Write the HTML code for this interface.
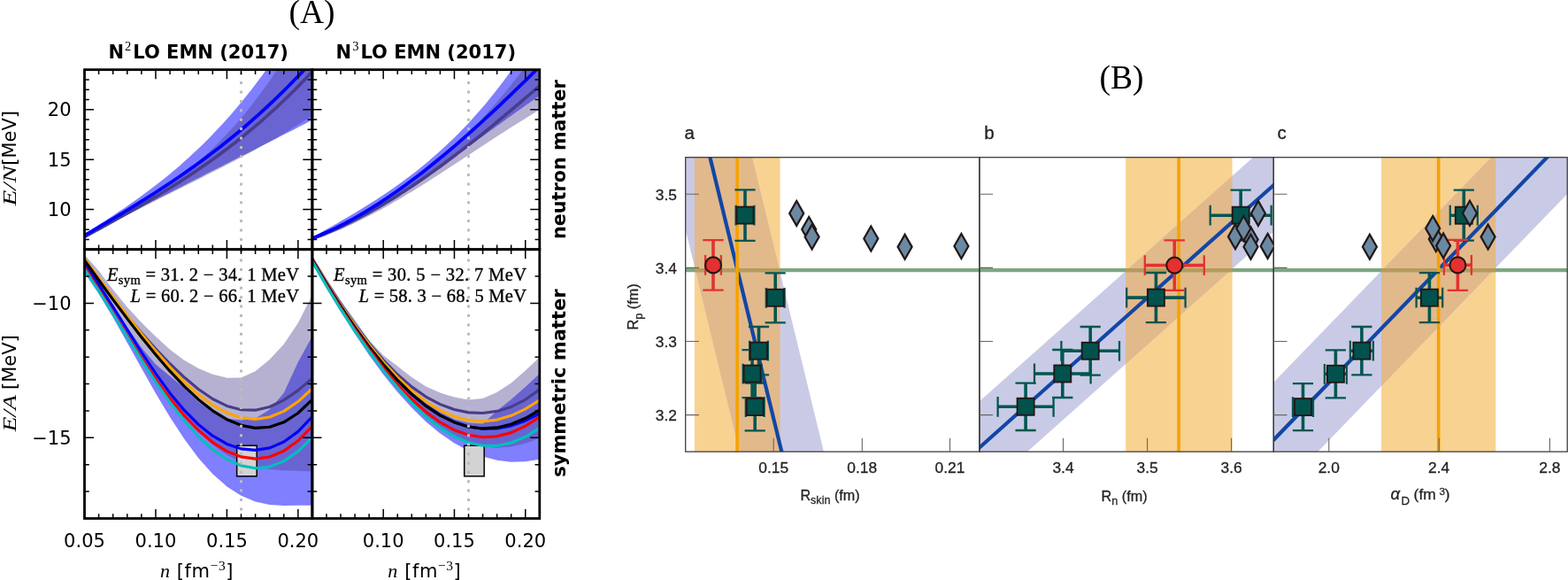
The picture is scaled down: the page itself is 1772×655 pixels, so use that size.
<!DOCTYPE html>
<html><head><meta charset="utf-8"><title>Figure</title>
<style>html,body{margin:0;padding:0;background:#fff;overflow:hidden}svg{display:block}</style>
</head><body>
<svg width="1772" height="655" viewBox="0 0 1772 655">
<rect x="0" y="0" width="1772" height="655" fill="#fff"/>
<defs><clipPath id="cTL"><rect x="95.5" y="78.7" width="257.4" height="203"/></clipPath><clipPath id="cTR"><rect x="352.9" y="78.7" width="256.9" height="203"/></clipPath><clipPath id="cBL"><rect x="95.5" y="281.7" width="257.4" height="303.8"/></clipPath><clipPath id="cBR"><rect x="352.9" y="281.7" width="256.9" height="303.8"/></clipPath></defs>
<g clip-path="url(#cTL)"><path d="M87.45,268.9 L91.48,266.42 L95.5,263.93 L99.52,261.43 L103.55,258.91 L107.57,256.38 L111.59,253.84 L115.61,251.28 L119.64,248.69 L123.66,246.08 L127.68,243.45 L131.7,240.79 L135.73,238.11 L139.75,235.39 L143.77,232.64 L147.79,229.85 L151.82,227.03 L155.84,224.17 L159.86,221.27 L163.88,218.33 L167.91,215.35 L171.93,212.31 L175.95,209.23 L179.97,206.1 L184,202.92 L188.02,199.68 L192.04,196.39 L196.06,193.04 L200.09,189.63 L204.11,186.16 L208.13,182.62 L212.15,179.02 L216.18,175.35 L220.2,171.61 L224.22,167.79 L228.24,163.91 L232.27,159.95 L236.29,155.91 L240.31,151.79 L244.33,147.59 L248.36,143.3 L252.38,138.94 L256.4,134.48 L260.42,129.93 L264.45,125.29 L268.47,120.56 L272.49,115.74 L276.51,110.81 L280.54,105.79 L284.56,100.67 L288.58,95.44 L292.6,90.11 L296.63,84.67 L300.65,79.12 L304.67,73.46 L308.69,67.69 L312.72,61.8 L316.74,55.8 L320.76,49.67 L324.78,43.43 L328.81,37.06 L332.83,30.57 L336.85,23.95 L340.87,17.2 L344.9,10.33 L348.92,3.32 L352.94,-3.83 L356.96,-11.11 L360.99,-18.53 L365.01,-26.09 L369.03,-33.79 L369.03,127.17 L365.01,129.27 L360.99,131.36 L356.96,133.45 L352.94,135.53 L348.92,137.61 L344.9,139.68 L340.87,141.75 L336.85,143.81 L332.83,145.88 L328.81,147.94 L324.78,149.99 L320.76,152.04 L316.74,154.09 L312.72,156.14 L308.69,158.19 L304.67,160.23 L300.65,162.27 L296.63,164.31 L292.6,166.35 L288.58,168.39 L284.56,170.42 L280.54,172.46 L276.51,174.49 L272.49,176.52 L268.47,178.56 L264.45,180.59 L260.42,182.62 L256.4,184.66 L252.38,186.69 L248.36,188.72 L244.33,190.76 L240.31,192.8 L236.29,194.83 L232.27,196.87 L228.24,198.92 L224.22,200.96 L220.2,203 L216.18,205.05 L212.15,207.1 L208.13,209.16 L204.11,211.21 L200.09,213.27 L196.06,215.33 L192.04,217.4 L188.02,219.47 L184,221.54 L179.97,223.62 L175.95,225.7 L171.93,227.79 L167.91,229.88 L163.88,231.98 L159.86,234.08 L155.84,236.19 L151.82,238.3 L147.79,240.42 L143.77,242.54 L139.75,244.67 L135.73,246.81 L131.7,248.95 L127.68,251.1 L123.66,253.26 L119.64,255.42 L115.61,257.6 L111.59,259.78 L107.57,261.96 L103.55,264.16 L99.52,266.36 L95.5,268.57 L91.48,270.79 L87.45,273.02 Z" fill="#0000ff" fill-opacity="0.5"/><path d="M87.45,269.31 L91.48,267.29 L95.5,265.26 L99.52,263.22 L103.55,261.17 L107.57,259.11 L111.59,257.03 L115.61,254.94 L119.64,252.82 L123.66,250.68 L127.68,248.51 L131.7,246.32 L135.73,244.1 L139.75,241.84 L143.77,239.54 L147.79,237.21 L151.82,234.84 L155.84,232.43 L159.86,229.97 L163.88,227.47 L167.91,224.91 L171.93,222.3 L175.95,219.64 L179.97,216.92 L184,214.15 L188.02,211.31 L192.04,208.4 L196.06,205.44 L200.09,202.4 L204.11,199.29 L208.13,196.1 L212.15,192.85 L216.18,189.51 L220.2,186.09 L224.22,182.59 L228.24,179 L232.27,175.33 L236.29,171.56 L240.31,167.7 L244.33,163.75 L248.36,159.7 L252.38,155.55 L256.4,151.3 L260.42,146.94 L264.45,142.48 L268.47,137.9 L272.49,133.22 L276.51,128.42 L280.54,123.5 L284.56,118.46 L288.58,113.31 L292.6,108.03 L296.63,102.62 L300.65,97.08 L304.67,91.42 L308.69,85.61 L312.72,79.68 L316.74,73.6 L320.76,67.39 L324.78,61.03 L328.81,54.53 L332.83,47.88 L336.85,41.08 L340.87,34.12 L344.9,27.01 L348.92,19.75 L352.94,12.32 L356.96,4.74 L360.99,-3.02 L365.01,-10.94 L369.03,-19.02 L369.03,119.58 L365.01,122.37 L360.99,125.12 L356.96,127.83 L352.94,130.5 L348.92,133.14 L344.9,135.74 L340.87,138.31 L336.85,140.85 L332.83,143.35 L328.81,145.82 L324.78,148.26 L320.76,150.67 L316.74,153.06 L312.72,155.42 L308.69,157.75 L304.67,160.05 L300.65,162.33 L296.63,164.59 L292.6,166.82 L288.58,169.04 L284.56,171.23 L280.54,173.41 L276.51,175.56 L272.49,177.7 L268.47,179.83 L264.45,181.94 L260.42,184.03 L256.4,186.11 L252.38,188.18 L248.36,190.24 L244.33,192.28 L240.31,194.32 L236.29,196.35 L232.27,198.37 L228.24,200.39 L224.22,202.4 L220.2,204.41 L216.18,206.41 L212.15,208.41 L208.13,210.41 L204.11,212.41 L200.09,214.41 L196.06,216.41 L192.04,218.42 L188.02,220.43 L184,222.44 L179.97,224.46 L175.95,226.49 L171.93,228.52 L167.91,230.57 L163.88,232.62 L159.86,234.68 L155.84,236.76 L151.82,238.85 L147.79,240.95 L143.77,243.07 L139.75,245.2 L135.73,247.35 L131.7,249.52 L127.68,251.7 L123.66,253.91 L119.64,256.14 L115.61,258.39 L111.59,260.66 L107.57,262.95 L103.55,265.27 L99.52,267.62 L95.5,269.99 L91.48,272.39 L87.45,274.82 Z" fill="#483d8b" fill-opacity="0.4"/><path d="M87.45,271.69 L91.48,269.51 L95.5,267.33 L99.52,265.15 L103.55,262.97 L107.57,260.78 L111.59,258.59 L115.61,256.4 L119.64,254.19 L123.66,251.99 L127.68,249.77 L131.7,247.54 L135.73,245.3 L139.75,243.05 L143.77,240.79 L147.79,238.52 L151.82,236.23 L155.84,233.92 L159.86,231.6 L163.88,229.26 L167.91,226.9 L171.93,224.52 L175.95,222.12 L179.97,219.7 L184,217.26 L188.02,214.79 L192.04,212.3 L196.06,209.79 L200.09,207.24 L204.11,204.67 L208.13,202.07 L212.15,199.44 L216.18,196.78 L220.2,194.09 L224.22,191.36 L228.24,188.6 L232.27,185.81 L236.29,182.98 L240.31,180.11 L244.33,177.21 L248.36,174.27 L252.38,171.28 L256.4,168.26 L260.42,165.19 L264.45,162.08 L268.47,158.93 L272.49,155.73 L276.51,152.49 L280.54,149.2 L284.56,145.86 L288.58,142.47 L292.6,139.03 L296.63,135.54 L300.65,132 L304.67,128.41 L308.69,124.76 L312.72,121.06 L316.74,117.3 L320.76,113.48 L324.78,109.61 L328.81,105.67 L332.83,101.68 L336.85,97.62 L340.87,93.5 L344.9,89.32 L348.92,85.08 L352.94,80.77 L356.96,76.39 L360.99,71.95 L365.01,67.43 L369.03,62.85" fill="none" stroke="#483d8b" stroke-width="3.6" stroke-linejoin="round"/><path d="M87.45,270.67 L91.48,268.33 L95.5,265.99 L99.52,263.64 L103.55,261.29 L107.57,258.94 L111.59,256.58 L115.61,254.21 L119.64,251.84 L123.66,249.46 L127.68,247.06 L131.7,244.66 L135.73,242.25 L139.75,239.82 L143.77,237.38 L147.79,234.92 L151.82,232.45 L155.84,229.97 L159.86,227.46 L163.88,224.94 L167.91,222.4 L171.93,219.84 L175.95,217.26 L179.97,214.66 L184,212.03 L188.02,209.38 L192.04,206.71 L196.06,204.01 L200.09,201.28 L204.11,198.53 L208.13,195.74 L212.15,192.93 L216.18,190.09 L220.2,187.22 L224.22,184.31 L228.24,181.37 L232.27,178.4 L236.29,175.39 L240.31,172.35 L244.33,169.27 L248.36,166.15 L252.38,162.99 L256.4,159.8 L260.42,156.56 L264.45,153.28 L268.47,149.96 L272.49,146.59 L276.51,143.19 L280.54,139.73 L284.56,136.23 L288.58,132.68 L292.6,129.09 L296.63,125.44 L300.65,121.75 L304.67,118 L308.69,114.2 L312.72,110.35 L316.74,106.45 L320.76,102.49 L324.78,98.47 L328.81,94.4 L332.83,90.27 L336.85,86.08 L340.87,81.84 L344.9,77.53 L348.92,73.16 L352.94,68.73 L356.96,64.23 L360.99,59.68 L365.01,55.05 L369.03,50.36" fill="none" stroke="#0000ff" stroke-width="3.8" stroke-linejoin="round"/></g>
<g clip-path="url(#cTR)"><path d="M344.87,272.72 L348.89,270.44 L352.9,268.17 L356.91,265.9 L360.93,263.63 L364.94,261.35 L368.96,259.07 L372.97,256.79 L376.98,254.49 L381,252.18 L385.01,249.86 L389.03,247.53 L393.04,245.17 L397.05,242.8 L401.07,240.4 L405.08,237.98 L409.1,235.53 L413.11,233.05 L417.12,230.54 L421.14,228 L425.15,225.42 L429.17,222.81 L433.18,220.16 L437.19,217.46 L441.21,214.72 L445.22,211.93 L449.24,209.1 L453.25,206.21 L457.26,203.28 L461.28,200.28 L465.29,197.23 L469.31,194.13 L473.32,190.95 L477.33,187.72 L481.35,184.42 L485.36,181.05 L489.38,177.62 L493.39,174.1 L497.4,170.52 L501.42,166.86 L505.43,163.12 L509.45,159.3 L513.46,155.39 L517.47,151.4 L521.49,147.33 L525.5,143.16 L529.52,138.9 L533.53,134.55 L537.54,130.1 L541.56,125.55 L545.57,120.9 L549.59,116.15 L553.6,111.3 L557.61,106.34 L561.63,101.26 L565.64,96.08 L569.66,90.78 L573.67,85.37 L577.68,79.84 L581.7,74.19 L585.71,68.42 L589.73,62.52 L593.74,56.5 L597.75,50.34 L601.77,44.06 L605.78,37.64 L609.8,31.09 L613.81,24.4 L617.82,17.57 L621.84,10.6 L625.85,3.49 L625.85,97.03 L621.84,99.75 L617.82,102.49 L613.81,105.24 L609.8,108.02 L605.78,110.81 L601.77,113.62 L597.75,116.44 L593.74,119.28 L589.73,122.13 L585.71,124.99 L581.7,127.86 L577.68,130.73 L573.67,133.62 L569.66,136.51 L565.64,139.41 L561.63,142.31 L557.61,145.22 L553.6,148.12 L549.59,151.03 L545.57,153.94 L541.56,156.84 L537.54,159.75 L533.53,162.64 L529.52,165.54 L525.5,168.42 L521.49,171.3 L517.47,174.17 L513.46,177.03 L509.45,179.88 L505.43,182.72 L501.42,185.54 L497.4,188.35 L493.39,191.14 L489.38,193.92 L485.36,196.68 L481.35,199.42 L477.33,202.14 L473.32,204.83 L469.31,207.51 L465.29,210.16 L461.28,212.78 L457.26,215.38 L453.25,217.95 L449.24,220.49 L445.22,223 L441.21,225.49 L437.19,227.93 L433.18,230.35 L429.17,232.73 L425.15,235.08 L421.14,237.39 L417.12,239.66 L413.11,241.89 L409.1,244.08 L405.08,246.23 L401.07,248.34 L397.05,250.4 L393.04,252.42 L389.03,254.39 L385.01,256.31 L381,258.19 L376.98,260.01 L372.97,261.79 L368.96,263.51 L364.94,265.18 L360.93,266.8 L356.91,268.36 L352.9,269.86 L348.89,271.3 L344.87,272.69 Z" fill="#0000ff" fill-opacity="0.5"/><path d="M344.87,272.27 L348.89,270.51 L352.9,268.73 L356.91,266.93 L360.93,265.1 L364.94,263.24 L368.96,261.36 L372.97,259.44 L376.98,257.5 L381,255.53 L385.01,253.52 L389.03,251.48 L393.04,249.41 L397.05,247.3 L401.07,245.16 L405.08,242.97 L409.1,240.75 L413.11,238.48 L417.12,236.18 L421.14,233.83 L425.15,231.44 L429.17,229 L433.18,226.51 L437.19,223.98 L441.21,221.4 L445.22,218.76 L449.24,216.08 L453.25,213.34 L457.26,210.55 L461.28,207.71 L465.29,204.81 L469.31,201.85 L473.32,198.83 L477.33,195.75 L481.35,192.61 L485.36,189.41 L489.38,186.15 L493.39,182.82 L497.4,179.42 L501.42,175.96 L505.43,172.43 L509.45,168.83 L513.46,165.16 L517.47,161.42 L521.49,157.6 L525.5,153.71 L529.52,149.75 L533.53,145.71 L537.54,141.59 L541.56,137.39 L545.57,133.11 L549.59,128.75 L553.6,124.3 L557.61,119.78 L561.63,115.16 L565.64,110.47 L569.66,105.68 L573.67,100.8 L577.68,95.84 L581.7,90.78 L585.71,85.64 L589.73,80.39 L593.74,75.06 L597.75,69.62 L601.77,64.09 L605.78,58.47 L609.8,52.74 L613.81,46.91 L617.82,40.98 L621.84,34.95 L625.85,28.81 L625.85,114.6 L621.84,116.89 L617.82,119.2 L613.81,121.55 L609.8,123.92 L605.78,126.32 L601.77,128.75 L597.75,131.2 L593.74,133.67 L589.73,136.16 L585.71,138.67 L581.7,141.2 L577.68,143.75 L573.67,146.32 L569.66,148.89 L565.64,151.48 L561.63,154.09 L557.61,156.7 L553.6,159.32 L549.59,161.95 L545.57,164.58 L541.56,167.22 L537.54,169.86 L533.53,172.51 L529.52,175.15 L525.5,177.8 L521.49,180.44 L517.47,183.07 L513.46,185.71 L509.45,188.33 L505.43,190.95 L501.42,193.56 L497.4,196.16 L493.39,198.75 L489.38,201.32 L485.36,203.88 L481.35,206.42 L477.33,208.95 L473.32,211.45 L469.31,213.94 L465.29,216.4 L461.28,218.85 L457.26,221.26 L453.25,223.65 L449.24,226.02 L445.22,228.36 L441.21,230.66 L437.19,232.94 L433.18,235.18 L429.17,237.39 L425.15,239.56 L421.14,241.7 L417.12,243.8 L413.11,245.86 L409.1,247.87 L405.08,249.85 L401.07,251.78 L397.05,253.67 L393.04,255.51 L389.03,257.31 L385.01,259.05 L381,260.74 L376.98,262.39 L372.97,263.98 L368.96,265.51 L364.94,266.99 L360.93,268.41 L356.91,269.77 L352.9,271.07 L348.89,272.31 L344.87,273.49 Z" fill="#483d8b" fill-opacity="0.4"/><path d="M344.87,272.42 L348.89,271.03 L352.9,269.6 L356.91,268.11 L360.93,266.57 L364.94,264.98 L368.96,263.34 L372.97,261.64 L376.98,259.9 L381,258.11 L385.01,256.27 L389.03,254.39 L393.04,252.46 L397.05,250.48 L401.07,248.45 L405.08,246.38 L409.1,244.27 L413.11,242.11 L417.12,239.91 L421.14,237.67 L425.15,235.39 L429.17,233.07 L433.18,230.7 L437.19,228.3 L441.21,225.86 L445.22,223.37 L449.24,220.86 L453.25,218.3 L457.26,215.71 L461.28,213.08 L465.29,210.42 L469.31,207.72 L473.32,204.99 L477.33,202.23 L481.35,199.43 L485.36,196.61 L489.38,193.75 L493.39,190.86 L497.4,187.94 L501.42,184.99 L505.43,182.02 L509.45,179.01 L513.46,175.98 L517.47,172.93 L521.49,169.84 L525.5,166.74 L529.52,163.6 L533.53,160.45 L537.54,157.27 L541.56,154.07 L545.57,150.84 L549.59,147.6 L553.6,144.33 L557.61,141.05 L561.63,137.74 L565.64,134.42 L569.66,131.08 L573.67,127.72 L577.68,124.34 L581.7,120.95 L585.71,117.55 L589.73,114.12 L593.74,110.69 L597.75,107.24 L601.77,103.78 L605.78,100.31 L609.8,96.82 L613.81,93.33 L617.82,89.82 L621.84,86.31 L625.85,82.78" fill="none" stroke="#483d8b" stroke-width="3.6" stroke-linejoin="round"/><path d="M344.87,272.09 L348.89,270.62 L352.9,269.08 L356.91,267.49 L360.93,265.83 L364.94,264.12 L368.96,262.34 L372.97,260.51 L376.98,258.62 L381,256.67 L385.01,254.66 L389.03,252.6 L393.04,250.48 L397.05,248.31 L401.07,246.09 L405.08,243.81 L409.1,241.48 L413.11,239.1 L417.12,236.67 L421.14,234.18 L425.15,231.65 L429.17,229.07 L433.18,226.45 L437.19,223.77 L441.21,221.05 L445.22,218.29 L449.24,215.48 L453.25,212.63 L457.26,209.73 L461.28,206.79 L465.29,203.81 L469.31,200.79 L473.32,197.73 L477.33,194.63 L481.35,191.49 L485.36,188.31 L489.38,185.1 L493.39,181.85 L497.4,178.56 L501.42,175.24 L505.43,171.89 L509.45,168.5 L513.46,165.08 L517.47,161.63 L521.49,158.15 L525.5,154.64 L529.52,151.09 L533.53,147.52 L537.54,143.92 L541.56,140.3 L545.57,136.64 L549.59,132.97 L553.6,129.26 L557.61,125.53 L561.63,121.78 L565.64,118.01 L569.66,114.21 L573.67,110.4 L577.68,106.56 L581.7,102.7 L585.71,98.83 L589.73,94.93 L593.74,91.02 L597.75,87.09 L601.77,83.15 L605.78,79.19 L609.8,75.21 L613.81,71.22 L617.82,67.22 L621.84,63.21 L625.85,59.19" fill="none" stroke="#0000ff" stroke-width="3.8" stroke-linejoin="round"/></g>
<g clip-path="url(#cTL)"><line x1="272.49" y1="78.7" x2="272.49" y2="281.7" stroke="#bcbcbc" stroke-width="3" stroke-dasharray="3 7.4" stroke-dashoffset="-13.4"/></g>
<g clip-path="url(#cTR)"><line x1="529.52" y1="78.7" x2="529.52" y2="281.7" stroke="#bcbcbc" stroke-width="3" stroke-dasharray="3 7.4" stroke-dashoffset="-13.4"/></g>
<g clip-path="url(#cBL)"><path d="M79.41,288 L95.5,295.01 L111.59,318.29 L127.68,343.81 L143.77,369.33 L159.86,392.62 L175.95,411.44 L192.04,424.81 L208.13,438.09 L224.22,454.01 L240.31,464.71 L256.4,472.5 L272.49,474.39 L288.58,472.41 L304.67,462.43 L320.76,443.66 L336.85,409.08 L352.94,379.56 L369.03,370 L369.03,571.09 L352.94,570.77 L336.85,570.79 L320.76,571.02 L304.67,569.96 L288.58,566.49 L272.49,559.82 L256.4,549.46 L240.31,535.22 L224.22,517.18 L208.13,495.62 L192.04,471.05 L175.95,444.17 L159.86,415.79 L143.77,386.89 L127.68,358.52 L111.59,331.81 L95.5,307.94 L79.41,300.64 Z" fill="#0000ff" fill-opacity="0.5"/><path d="M79.41,281 L95.5,287.79 L111.59,305.72 L127.68,326.99 L143.77,346.77 L159.86,364.25 L175.95,380.09 L192.04,394.78 L208.13,406.8 L224.22,416.04 L240.31,422.73 L256.4,426.7 L272.49,426.47 L288.58,419.31 L304.67,406.11 L320.76,388.67 L336.85,364.84 L352.94,333.07 L369.03,320 L369.03,533.07 L352.94,532.62 L336.85,531.85 L320.76,531.3 L304.67,530 L288.58,527.09 L272.49,521.86 L256.4,513.75 L240.31,502.36 L224.22,487.49 L208.13,469.16 L192.04,447.62 L175.95,423.36 L159.86,397.14 L143.77,370.04 L127.68,343.4 L111.59,318.93 L95.5,298.67 L79.41,293.12 Z" fill="#483d8b" fill-opacity="0.4"/><rect x="267.66" y="503.17" width="22.53" height="34.63" fill="#d3d3d3" stroke="#000" stroke-width="1.5"/><path d="M79.41,291.52 L95.5,291.52 L111.59,315.85 L127.68,337.47 L143.77,357.38 L159.86,376.15 L175.95,393.97 L192.04,410.73 L208.13,426.07 L224.22,439.52 L240.31,450.49 L256.4,458.41 L272.49,462.77 L288.58,463.19 L304.67,459.53 L320.76,451.92 L336.85,440.85 L352.94,427.27 L369.03,427.22" fill="none" stroke="#483d8b" stroke-width="3.15" stroke-linejoin="round"/><path d="M79.41,291.87 L95.5,291.87 L111.59,313.96 L127.68,335.53 L143.77,356.58 L159.86,376.95 L175.95,396.4 L192.04,414.59 L208.13,431.12 L224.22,445.53 L240.31,457.39 L256.4,466.24 L272.49,471.67 L288.58,473.33 L304.67,470.95 L320.76,464.36 L336.85,453.54 L352.94,438.61 L369.03,438.55" fill="none" stroke="#ffa500" stroke-width="3.15" stroke-linejoin="round"/><path d="M79.41,298.73 L95.5,298.73 L111.59,321.49 L127.68,346.56 L143.77,372.44 L159.86,397.89 L175.95,421.96 L192.04,443.91 L208.13,463.17 L224.22,479.36 L240.31,492.17 L256.4,501.4 L272.49,506.87 L288.58,508.43 L304.67,505.89 L320.76,498.99 L336.85,487.39 L352.94,470.6 L369.03,470.53" fill="none" stroke="#0000ff" stroke-width="3.15" stroke-linejoin="round"/><path d="M79.41,293.84 L95.5,293.84 L111.59,316.25 L127.68,338.31 L143.77,359.86 L159.86,380.7 L175.95,400.58 L192.04,419.19 L208.13,436.19 L224.22,451.2 L240.31,463.84 L256.4,473.69 L272.49,480.33 L288.58,483.33 L304.67,482.29 L320.76,476.8 L336.85,466.49 L352.94,451.01 L369.03,450.94" fill="none" stroke="#000000" stroke-width="3.15" stroke-linejoin="round"/><path d="M79.41,301.49 L95.5,301.49 L111.59,327.05 L127.68,353.16 L143.77,379.1 L159.86,404.24 L175.95,428 L192.04,449.84 L208.13,469.33 L224.22,486.02 L240.31,499.57 L256.4,509.62 L272.49,515.88 L288.58,518.08 L304.67,515.94 L320.76,509.25 L336.85,497.76 L352.94,481.25 L369.03,481.18" fill="none" stroke="#ff0000" stroke-width="3.15" stroke-linejoin="round"/><path d="M79.41,304.12 L95.5,304.12 L111.59,328.55 L127.68,354.35 L143.77,380.61 L159.86,406.51 L175.95,431.31 L192.04,454.37 L208.13,475.12 L224.22,493.05 L240.31,507.72 L256.4,518.77 L272.49,525.87 L288.58,528.73 L304.67,527.14 L320.76,520.89 L336.85,509.82 L352.94,493.79 L369.03,493.72" fill="none" stroke="#00bfbf" stroke-width="3.15" stroke-linejoin="round"/><line x1="272.49" y1="281.7" x2="272.49" y2="585.5" stroke="#bcbcbc" stroke-width="3" stroke-dasharray="3 7.4" stroke-dashoffset="-0.5"/></g>
<g clip-path="url(#cBR)"><path d="M336.84,285 L352.9,292.51 L368.96,318.56 L385.01,343.46 L401.07,366.66 L417.12,388.39 L433.18,408.37 L449.24,426.64 L465.29,442.09 L481.35,454.99 L497.4,465.5 L513.46,473.48 L529.52,477.49 L545.57,478.48 L561.63,464 L577.68,451.01 L593.74,436.96 L609.8,422 L625.85,416 L625.85,517.44 L609.8,518.77 L593.74,521.35 L577.68,521.65 L561.63,519.72 L545.57,515.54 L529.52,509.11 L513.46,500.41 L497.4,489.43 L481.35,476.15 L465.29,460.61 L449.24,442.84 L433.18,422.93 L417.12,401 L401.07,377.24 L385.01,351.9 L368.96,325.29 L352.9,297.83 L336.84,289.35 Z" fill="#0000ff" fill-opacity="0.5"/><path d="M336.84,284 L352.9,291.01 L368.96,315.42 L385.01,339.13 L401.07,361.15 L417.12,383.9 L433.18,401.25 L449.24,413.53 L465.29,426.07 L481.35,436.49 L497.4,443.5 L513.46,448.49 L529.52,451.49 L545.57,449.9 L561.63,442.89 L577.68,432.51 L593.74,418.57 L609.8,403.5 L625.85,398 L625.85,492.58 L609.8,494.87 L593.74,500.7 L577.68,504.38 L561.63,505.66 L545.57,504.34 L529.52,500.29 L513.46,493.45 L497.4,483.83 L481.35,471.49 L465.29,456.54 L449.24,439.12 L433.18,419.45 L417.12,397.76 L401.07,374.31 L385.01,349.41 L368.96,323.38 L352.9,296.56 L336.84,288.27 Z" fill="#483d8b" fill-opacity="0.4"/><rect x="524.7" y="503.17" width="22.48" height="34.63" fill="#d3d3d3" stroke="#000" stroke-width="1.5"/><path d="M336.84,291.7 L352.9,291.7 L368.96,317.97 L385.01,343.03 L401.07,366.38 L417.12,387.65 L433.18,406.58 L449.24,423.01 L465.29,436.85 L481.35,448.06 L497.4,456.63 L513.46,462.56 L529.52,465.85 L545.57,466.48 L561.63,464.38 L577.68,459.4 L593.74,451.33 L609.8,439.84 L625.85,439.84" fill="none" stroke="#483d8b" stroke-width="3.15" stroke-linejoin="round"/><path d="M336.84,292.25 L352.9,292.25 L368.96,319.22 L385.01,344.39 L401.07,367.76 L417.12,389.24 L433.18,408.72 L449.24,426.05 L465.29,441.06 L481.35,453.57 L497.4,463.44 L513.46,470.51 L529.52,474.67 L545.57,475.85 L561.63,474.06 L577.68,469.34 L593.74,461.84 L609.8,451.82 L625.85,451.82" fill="none" stroke="#ffa500" stroke-width="3.15" stroke-linejoin="round"/><path d="M336.84,293.42 L352.9,293.42 L368.96,320.43 L385.01,345.94 L401.07,369.78 L417.12,391.79 L433.18,411.8 L449.24,429.66 L465.29,445.21 L481.35,458.32 L497.4,468.87 L513.46,476.75 L529.52,481.91 L545.57,484.3 L561.63,483.94 L577.68,480.86 L593.74,475.16 L609.8,466.99 L625.85,466.98" fill="none" stroke="#0000ff" stroke-width="3.15" stroke-linejoin="round"/><path d="M336.84,293.35 L352.9,293.35 L368.96,320.64 L385.01,346.1 L401.07,369.78 L417.12,391.64 L433.18,411.59 L449.24,429.49 L465.29,445.16 L481.35,458.42 L497.4,469.08 L513.46,476.96 L529.52,481.94 L545.57,483.94 L561.63,482.92 L577.68,478.98 L593.74,472.26 L609.8,463.07 L625.85,463.07" fill="none" stroke="#000000" stroke-width="3.15" stroke-linejoin="round"/><path d="M336.84,294.51 L352.9,294.51 L368.96,321.94 L385.01,347.76 L401.07,372 L417.12,394.6 L433.18,415.43 L449.24,434.3 L465.29,451 L481.35,465.28 L497.4,476.91 L513.46,485.65 L529.52,491.31 L545.57,493.73 L561.63,492.83 L577.68,488.61 L593.74,481.17 L609.8,470.71 L625.85,470.71" fill="none" stroke="#ff0000" stroke-width="3.15" stroke-linejoin="round"/><path d="M336.84,295.04 L352.9,295.04 L368.96,323.02 L385.01,349.22 L401.07,373.81 L417.12,396.8 L433.18,418.15 L449.24,437.68 L465.29,455.18 L481.35,470.42 L497.4,483.1 L513.46,492.97 L529.52,499.77 L545.57,503.3 L561.63,503.42 L577.68,500.07 L593.74,493.31 L609.8,483.32 L625.85,483.32" fill="none" stroke="#00bfbf" stroke-width="3.15" stroke-linejoin="round"/><line x1="529.52" y1="281.7" x2="529.52" y2="585.5" stroke="#bcbcbc" stroke-width="3" stroke-dasharray="3 7.4" stroke-dashoffset="-0.5"/></g>
<rect x="95.5" y="78.7" width="257.4" height="203" fill="none" stroke="#000" stroke-width="2.8"/><rect x="352.9" y="78.7" width="256.9" height="203" fill="none" stroke="#000" stroke-width="2.8"/><rect x="95.5" y="281.7" width="257.4" height="303.8" fill="none" stroke="#000" stroke-width="2.8"/><rect x="352.9" y="281.7" width="256.9" height="303.8" fill="none" stroke="#000" stroke-width="2.8"/>
<path d="M111.59,78.7V84M111.59,281.7V276.4M127.68,78.7V84M127.68,281.7V276.4M143.77,78.7V84M143.77,281.7V276.4M159.86,78.7V84M159.86,281.7V276.4M175.95,78.7V89.3M175.95,281.7V271.1M192.04,78.7V84M192.04,281.7V276.4M208.13,78.7V84M208.13,281.7V276.4M224.22,78.7V84M224.22,281.7V276.4M240.31,78.7V84M240.31,281.7V276.4M256.4,78.7V89.3M256.4,281.7V271.1M272.49,78.7V84M272.49,281.7V276.4M288.58,78.7V84M288.58,281.7V276.4M304.67,78.7V84M304.67,281.7V276.4M320.76,78.7V84M320.76,281.7V276.4M336.85,78.7V89.3M336.85,281.7V271.1M111.59,281.7V287M111.59,585.5V580.2M127.68,281.7V287M127.68,585.5V580.2M143.77,281.7V287M143.77,585.5V580.2M159.86,281.7V287M159.86,585.5V580.2M175.95,281.7V292.3M175.95,585.5V574.9M192.04,281.7V287M192.04,585.5V580.2M208.13,281.7V287M208.13,585.5V580.2M224.22,281.7V287M224.22,585.5V580.2M240.31,281.7V287M240.31,585.5V580.2M256.4,281.7V292.3M256.4,585.5V574.9M272.49,281.7V287M272.49,585.5V580.2M288.58,281.7V287M288.58,585.5V580.2M304.67,281.7V287M304.67,585.5V580.2M320.76,281.7V287M320.76,585.5V580.2M336.85,281.7V292.3M336.85,585.5V574.9M95.5,270.42H100.8M352.9,270.42H347.6M95.5,259.14H100.8M352.9,259.14H347.6M95.5,247.87H100.8M352.9,247.87H347.6M95.5,236.59H106.1M352.9,236.59H342.3M95.5,225.31H100.8M352.9,225.31H347.6M95.5,214.03H100.8M352.9,214.03H347.6M95.5,202.75H100.8M352.9,202.75H347.6M95.5,191.48H100.8M352.9,191.48H347.6M95.5,180.2H106.1M352.9,180.2H342.3M95.5,168.92H100.8M352.9,168.92H347.6M95.5,157.64H100.8M352.9,157.64H347.6M95.5,146.36H100.8M352.9,146.36H347.6M95.5,135.09H100.8M352.9,135.09H347.6M95.5,123.81H106.1M352.9,123.81H342.3M95.5,112.53H100.8M352.9,112.53H347.6M95.5,101.25H100.8M352.9,101.25H347.6M95.5,89.97H100.8M352.9,89.97H347.6M95.5,555.12H100.8M352.9,555.12H347.6M95.5,524.74H100.8M352.9,524.74H347.6M95.5,494.36H106.1M352.9,494.36H342.3M95.5,463.98H100.8M352.9,463.98H347.6M95.5,433.6H100.8M352.9,433.6H347.6M95.5,403.22H100.8M352.9,403.22H347.6M95.5,372.84H100.8M352.9,372.84H347.6M95.5,342.46H106.1M352.9,342.46H342.3M95.5,312.08H100.8M352.9,312.08H347.6M368.96,78.7V84M368.96,281.7V276.4M385.01,78.7V84M385.01,281.7V276.4M401.07,78.7V84M401.07,281.7V276.4M417.12,78.7V84M417.12,281.7V276.4M433.18,78.7V89.3M433.18,281.7V271.1M449.24,78.7V84M449.24,281.7V276.4M465.29,78.7V84M465.29,281.7V276.4M481.35,78.7V84M481.35,281.7V276.4M497.4,78.7V84M497.4,281.7V276.4M513.46,78.7V89.3M513.46,281.7V271.1M529.52,78.7V84M529.52,281.7V276.4M545.57,78.7V84M545.57,281.7V276.4M561.63,78.7V84M561.63,281.7V276.4M577.68,78.7V84M577.68,281.7V276.4M593.74,78.7V89.3M593.74,281.7V271.1M368.96,281.7V287M368.96,585.5V580.2M385.01,281.7V287M385.01,585.5V580.2M401.07,281.7V287M401.07,585.5V580.2M417.12,281.7V287M417.12,585.5V580.2M433.18,281.7V292.3M433.18,585.5V574.9M449.24,281.7V287M449.24,585.5V580.2M465.29,281.7V287M465.29,585.5V580.2M481.35,281.7V287M481.35,585.5V580.2M497.4,281.7V287M497.4,585.5V580.2M513.46,281.7V292.3M513.46,585.5V574.9M529.52,281.7V287M529.52,585.5V580.2M545.57,281.7V287M545.57,585.5V580.2M561.63,281.7V287M561.63,585.5V580.2M577.68,281.7V287M577.68,585.5V580.2M593.74,281.7V292.3M593.74,585.5V574.9M352.9,270.42H358.2M609.8,270.42H604.5M352.9,259.14H358.2M609.8,259.14H604.5M352.9,247.87H358.2M609.8,247.87H604.5M352.9,236.59H363.5M609.8,236.59H599.2M352.9,225.31H358.2M609.8,225.31H604.5M352.9,214.03H358.2M609.8,214.03H604.5M352.9,202.75H358.2M609.8,202.75H604.5M352.9,191.48H358.2M609.8,191.48H604.5M352.9,180.2H363.5M609.8,180.2H599.2M352.9,168.92H358.2M609.8,168.92H604.5M352.9,157.64H358.2M609.8,157.64H604.5M352.9,146.36H358.2M609.8,146.36H604.5M352.9,135.09H358.2M609.8,135.09H604.5M352.9,123.81H363.5M609.8,123.81H599.2M352.9,112.53H358.2M609.8,112.53H604.5M352.9,101.25H358.2M609.8,101.25H604.5M352.9,89.97H358.2M609.8,89.97H604.5M352.9,555.12H358.2M609.8,555.12H604.5M352.9,524.74H358.2M609.8,524.74H604.5M352.9,494.36H363.5M609.8,494.36H599.2M352.9,463.98H358.2M609.8,463.98H604.5M352.9,433.6H358.2M609.8,433.6H604.5M352.9,403.22H358.2M609.8,403.22H604.5M352.9,372.84H358.2M609.8,372.84H604.5M352.9,342.46H363.5M609.8,342.46H599.2M352.9,312.08H358.2M609.8,312.08H604.5" stroke="#000" stroke-width="1.5" fill="none"/>
<text x="95.5" y="617.6" style="font-family:'DejaVu Sans',sans-serif;font-size:21px;font-weight:normal" text-anchor="middle" fill="#000">0.05</text><text x="175.95" y="617.6" style="font-family:'DejaVu Sans',sans-serif;font-size:21px;font-weight:normal" text-anchor="middle" fill="#000">0.10</text><text x="256.4" y="617.6" style="font-family:'DejaVu Sans',sans-serif;font-size:21px;font-weight:normal" text-anchor="middle" fill="#000">0.15</text><text x="336.85" y="617.6" style="font-family:'DejaVu Sans',sans-serif;font-size:21px;font-weight:normal" text-anchor="middle" fill="#000">0.20</text><text x="433.18" y="617.6" style="font-family:'DejaVu Sans',sans-serif;font-size:21px;font-weight:normal" text-anchor="middle" fill="#000">0.10</text><text x="513.46" y="617.6" style="font-family:'DejaVu Sans',sans-serif;font-size:21px;font-weight:normal" text-anchor="middle" fill="#000">0.15</text><text x="593.74" y="617.6" style="font-family:'DejaVu Sans',sans-serif;font-size:21px;font-weight:normal" text-anchor="middle" fill="#000">0.20</text><text x="80.6" y="244.19" style="font-family:'DejaVu Sans',sans-serif;font-size:21px;font-weight:normal" text-anchor="end" fill="#000">10</text><text x="80.6" y="187.8" style="font-family:'DejaVu Sans',sans-serif;font-size:21px;font-weight:normal" text-anchor="end" fill="#000">15</text><text x="80.6" y="131.41" style="font-family:'DejaVu Sans',sans-serif;font-size:21px;font-weight:normal" text-anchor="end" fill="#000">20</text><text x="80.6" y="350.06" style="font-family:'DejaVu Sans',sans-serif;font-size:21px;font-weight:normal" text-anchor="end" fill="#000">−10</text><text x="80.6" y="501.96" style="font-family:'DejaVu Sans',sans-serif;font-size:21px;font-weight:normal" text-anchor="end" fill="#000">−15</text><text x="224.2" y="65.5" style="font-family:'DejaVu Sans',sans-serif;font-size:21px;font-weight:bold" text-anchor="middle" fill="#000">N<tspan dx="1" dy="-8.4" style="font-family:'Liberation Serif','DejaVu Serif',serif;font-size:14.5px;font-weight:normal">2</tspan><tspan dx="2" dy="8.4">LO EMN (2017)</tspan></text><text x="481.3" y="65.5" style="font-family:'DejaVu Sans',sans-serif;font-size:21px;font-weight:bold" text-anchor="middle" fill="#000">N<tspan dx="1" dy="-8.4" style="font-family:'Liberation Serif','DejaVu Serif',serif;font-size:14.5px;font-weight:normal">3</tspan><tspan dx="2" dy="8.4">LO EMN (2017)</tspan></text><text transform="translate(639.3,180.2) rotate(-90)" x="0" y="0" style="font-family:'DejaVu Sans',sans-serif;font-size:20.75px;font-weight:bold" text-anchor="middle" fill="#000">neutron matter</text><text transform="translate(639.3,432.6) rotate(-90)" x="0" y="0" style="font-family:'DejaVu Sans',sans-serif;font-size:21px;font-weight:bold" text-anchor="middle" fill="#000">symmetric matter</text><text transform="translate(18.2,0) rotate(-90)" x="-232.6" y="0" textLength="45.6" lengthAdjust="spacingAndGlyphs" fill="#000" style="font-family:'Liberation Serif','DejaVu Serif',serif;font-style:italic;font-size:21.5px">E/N</text><text transform="translate(18.0,0) rotate(-90)" x="-186.8" y="0" fill="#000" style="font-family:'DejaVu Sans',sans-serif;font-size:21px">[MeV]</text><text transform="translate(18.2,0) rotate(-90)" x="-487.6" y="0" textLength="41.6" lengthAdjust="spacingAndGlyphs" fill="#000" style="font-family:'Liberation Serif','DejaVu Serif',serif;font-style:italic;font-size:21.5px">E/A</text><text transform="translate(18.0,0) rotate(-90)" x="-440" y="0" fill="#000" style="font-family:'DejaVu Sans',sans-serif;font-size:21px">[MeV]</text><text x="181" y="651.9" textLength="82.5" lengthAdjust="spacing" fill="#000" style="font-family:'DejaVu Sans',sans-serif;font-size:21px"><tspan style="font-family:'Liberation Serif','DejaVu Serif',serif;font-style:italic;font-size:22px">n</tspan> [fm<tspan dy="-7.6" style="font-family:'Liberation Serif','DejaVu Serif',serif;font-size:15.5px">−3</tspan><tspan dy="7.6">]</tspan></text><text x="438.3" y="651.9" textLength="82.5" lengthAdjust="spacing" fill="#000" style="font-family:'DejaVu Sans',sans-serif;font-size:21px"><tspan style="font-family:'Liberation Serif','DejaVu Serif',serif;font-style:italic;font-size:22px">n</tspan> [fm<tspan dy="-7.6" style="font-family:'Liberation Serif','DejaVu Serif',serif;font-size:15.5px">−3</tspan><tspan dy="7.6">]</tspan></text><text x="121" y="316.6" textLength="217" lengthAdjust="spacing" fill="#000" stroke="#000" stroke-width="0.35" style="font-family:'Liberation Serif','DejaVu Serif',serif;font-size:20.5px"><tspan style="font-style:italic">E</tspan><tspan dy="4.2" style="font-size:14.5px">sym</tspan><tspan dy="-4.2"> = 31. 2 − 34. 1 MeV</tspan></text><text x="147.6" y="341.2" textLength="190.4" lengthAdjust="spacing" fill="#000" stroke="#000" stroke-width="0.35" style="font-family:'Liberation Serif','DejaVu Serif',serif;font-size:20.5px"><tspan style="font-style:italic">L</tspan> = 60. 2 − 66. 1 MeV</text><text x="377" y="316.6" textLength="218" lengthAdjust="spacing" fill="#000" stroke="#000" stroke-width="0.35" style="font-family:'Liberation Serif','DejaVu Serif',serif;font-size:20.5px"><tspan style="font-style:italic">E</tspan><tspan dy="4.2" style="font-size:14.5px">sym</tspan><tspan dy="-4.2"> = 30. 5 − 32. 7 MeV</tspan></text><text x="405.6" y="341.2" textLength="189.4" lengthAdjust="spacing" fill="#000" stroke="#000" stroke-width="0.35" style="font-family:'Liberation Serif','DejaVu Serif',serif;font-size:20.5px"><tspan style="font-style:italic">L</tspan> = 58. 3 − 68. 5 MeV</text><text x="326.5" y="26.2" style="font-family:'Liberation Serif','DejaVu Serif',serif;font-size:37.5px" fill="#000">(A)</text>
<defs><clipPath id="cb0"><rect x="774.7" y="177.7" width="332.2" height="332.4"/></clipPath><clipPath id="cb1"><rect x="1106.9" y="177.7" width="332.4" height="332.4"/></clipPath><clipPath id="cb2"><rect x="1439.3" y="177.7" width="331.9" height="332.4"/></clipPath><clipPath id="co0"><rect x="784.9" y="177.7" width="96.7" height="332.4"/></clipPath><clipPath id="co1"><rect x="1272.1" y="177.7" width="120.5" height="332.4"/></clipPath><clipPath id="co2"><rect x="1561.1" y="177.7" width="129.2" height="332.4"/></clipPath></defs>
<g clip-path="url(#cb0)"><rect x="784.9" y="177.7" width="96.7" height="332.4" fill="#f8d290"/><polygon points="753.58,172.7 848.78,172.7 932.16,515.1 836.96,515.1" fill="#c9cbe6"/><g clip-path="url(#co0)"><polygon points="753.58,172.7 848.78,172.7 932.16,515.1 836.96,515.1" fill="#e2b98b"/></g><line x1="801.18" y1="172.7" x2="884.56" y2="515.1" stroke="#1246a6" stroke-width="4.2"/><line x1="774.7" y1="305.1" x2="1106.9" y2="305.1" stroke="#7da781" stroke-width="4.4"/><line x1="784.9" y1="305.1" x2="881.6" y2="305.1" stroke="#b59b5d" stroke-width="4.4"/><line x1="833.1" y1="177.7" x2="833.1" y2="510.1" stroke="#f4a300" stroke-width="3.6"/></g>
<g clip-path="url(#cb1)"><rect x="1272.1" y="177.7" width="120.5" height="332.4" fill="#f8d290"/><polygon points="1101.9,457.76 1444.3,152.54 1444.3,257.54 1101.9,562.76" fill="#c9cbe6"/><g clip-path="url(#co1)"><polygon points="1101.9,457.76 1444.3,152.54 1444.3,257.54 1101.9,562.76" fill="#e2b98b"/></g><line x1="1101.9" y1="509.86" x2="1444.3" y2="204.64" stroke="#1246a6" stroke-width="4.2"/><line x1="1106.9" y1="305.1" x2="1439.3" y2="305.1" stroke="#7da781" stroke-width="4.4"/><line x1="1272.1" y1="305.1" x2="1392.6" y2="305.1" stroke="#b59b5d" stroke-width="4.4"/><line x1="1332.1" y1="177.7" x2="1332.1" y2="510.1" stroke="#f4a300" stroke-width="3.6"/></g>
<g clip-path="url(#cb2)"><rect x="1561.1" y="177.7" width="129.2" height="332.4" fill="#f8d290"/><polygon points="1434.3,436.96 1776.2,83.88 1776.2,213.88 1434.3,566.96" fill="#c9cbe6"/><g clip-path="url(#co2)"><polygon points="1434.3,436.96 1776.2,83.88 1776.2,213.88 1434.3,566.96" fill="#e2b98b"/></g><line x1="1434.3" y1="501.96" x2="1776.2" y2="148.88" stroke="#1246a6" stroke-width="4.2"/><line x1="1439.3" y1="305.1" x2="1771.2" y2="305.1" stroke="#7da781" stroke-width="4.4"/><line x1="1561.1" y1="305.1" x2="1690.3" y2="305.1" stroke="#b59b5d" stroke-width="4.4"/><line x1="1625.7" y1="177.7" x2="1625.7" y2="510.1" stroke="#f4a300" stroke-width="3.6"/></g>
<rect x="774.7" y="177.7" width="332.2" height="332.4" fill="none" stroke="#3b3434" stroke-width="1.25"/>
<rect x="1106.9" y="177.7" width="332.4" height="332.4" fill="none" stroke="#3b3434" stroke-width="1.25"/>
<rect x="1439.3" y="177.7" width="331.9" height="332.4" fill="none" stroke="#3b3434" stroke-width="1.25"/>
<path d="M774.7,468.6H789.9M774.7,385.5H789.9M774.7,302.4H789.9M774.7,219.3H789.9M1106.9,468.6H1122.1M1106.9,385.5H1122.1M1106.9,302.4H1122.1M1106.9,219.3H1122.1M1439.3,468.6H1454.5M1439.3,385.5H1454.5M1439.3,302.4H1454.5M1439.3,219.3H1454.5M874.2,510.1V494.8M974.3,510.1V494.8M1073.5,510.1V494.8M1201.5,510.1V494.8M1296.6,510.1V494.8M1391.6,510.1V494.8M1501.8,510.1V494.8M1626.2,510.1V494.8M1751.4,510.1V494.8" stroke="#6b6363" stroke-width="1.1" fill="none"/>
<g clip-path="url(#cb0)"><path d="M842,214.4V271.8M831.6,243.1H852.4" stroke="#03564f" stroke-width="3.6" fill="none"/><path d="M830.4,214.4H853.6M830.4,271.8H853.6M831.6,231.7V254.5M852.4,231.7V254.5" stroke="#03564f" stroke-width="2.3" fill="none"/><path d="M876.2,308.3V364.3M865.8,336.3H886.6" stroke="#03564f" stroke-width="3.6" fill="none"/><path d="M864.6,308.3H887.8M864.6,364.3H887.8M865.8,324.9V347.7M886.6,324.9V347.7" stroke="#03564f" stroke-width="2.3" fill="none"/><path d="M857.5,369V423.4M847.1,396.2H867.9" stroke="#03564f" stroke-width="3.6" fill="none"/><path d="M845.9,369H869.1M845.9,423.4H869.1M847.1,384.8V407.6M867.9,384.8V407.6" stroke="#03564f" stroke-width="2.3" fill="none"/><path d="M850.1,395.1V449.1M839.7,422.1H860.5" stroke="#03564f" stroke-width="3.6" fill="none"/><path d="M838.5,395.1H861.7M838.5,449.1H861.7M839.7,410.7V433.5M860.5,410.7V433.5" stroke="#03564f" stroke-width="2.3" fill="none"/><path d="M853.2,432.7V486.3M842.8,459.5H863.6" stroke="#03564f" stroke-width="3.6" fill="none"/><path d="M841.6,432.7H864.8M841.6,486.3H864.8M842.8,448.1V470.9M863.6,448.1V470.9" stroke="#03564f" stroke-width="2.3" fill="none"/><path d="M806,271.1V327.7M797.1,299.4H814.9" stroke="#e4312f" stroke-width="3.6" fill="none"/><path d="M794.3,271.1H817.7M794.3,327.7H817.7M797.1,288.1V310.7M814.9,288.1V310.7" stroke="#e4312f" stroke-width="2.3" fill="none"/><rect x="832.5" y="233.6" width="19" height="19" fill="#01524d" stroke="#221818" stroke-width="1.9"/><rect x="866.7" y="326.8" width="19" height="19" fill="#01524d" stroke="#221818" stroke-width="1.9"/><rect x="848" y="386.7" width="19" height="19" fill="#01524d" stroke="#221818" stroke-width="1.9"/><rect x="840.6" y="412.6" width="19" height="19" fill="#01524d" stroke="#221818" stroke-width="1.9"/><rect x="843.7" y="450" width="19" height="19" fill="#01524d" stroke="#221818" stroke-width="1.9"/><circle cx="806" cy="299.4" r="9.0" fill="#e4312f" stroke="#221818" stroke-width="2.1"/><path d="M900.2,226.9L908.2,240.9L900.2,254.9L892.2,240.9Z" fill="#6b89a2" stroke="#221818" stroke-width="2.25" stroke-linejoin="miter"/><path d="M914.2,245L922.2,259L914.2,273L906.2,259Z" fill="#6b89a2" stroke="#221818" stroke-width="2.25" stroke-linejoin="miter"/><path d="M917.6,253.6L925.6,267.6L917.6,281.6L909.6,267.6Z" fill="#6b89a2" stroke="#221818" stroke-width="2.25" stroke-linejoin="miter"/><path d="M984.3,255.5L992.3,269.5L984.3,283.5L976.3,269.5Z" fill="#6b89a2" stroke="#221818" stroke-width="2.25" stroke-linejoin="miter"/><path d="M1022.6,264.85L1030.6,278.85L1022.6,292.85L1014.6,278.85Z" fill="#6b89a2" stroke="#221818" stroke-width="2.25" stroke-linejoin="miter"/><path d="M1086.4,264L1094.4,278L1086.4,292L1078.4,278Z" fill="#6b89a2" stroke="#221818" stroke-width="2.25" stroke-linejoin="miter"/></g>
<g clip-path="url(#cb1)"><path d="M1402.2,214.7V271.7M1367.7,243.2H1436.7" stroke="#03564f" stroke-width="3.6" fill="none"/><path d="M1390.6,214.7H1413.8M1390.6,271.7H1413.8M1367.7,231.8V254.6M1436.7,231.8V254.6" stroke="#03564f" stroke-width="2.3" fill="none"/><path d="M1306.4,308V364.2M1273.2,336.1H1339.6" stroke="#03564f" stroke-width="3.6" fill="none"/><path d="M1294.8,308H1318M1294.8,364.2H1318M1273.2,324.7V347.5M1339.6,324.7V347.5" stroke="#03564f" stroke-width="2.3" fill="none"/><path d="M1232.2,369V423.6M1199.4,396.3H1265" stroke="#03564f" stroke-width="3.6" fill="none"/><path d="M1220.6,369H1243.8M1220.6,423.6H1243.8M1199.4,384.9V407.7M1265,384.9V407.7" stroke="#03564f" stroke-width="2.3" fill="none"/><path d="M1200.8,395V449M1169,422H1232.6" stroke="#03564f" stroke-width="3.6" fill="none"/><path d="M1189.2,395H1212.4M1189.2,449H1212.4M1169,410.6V433.4M1232.6,410.6V433.4" stroke="#03564f" stroke-width="2.3" fill="none"/><path d="M1159.1,432.6V486M1127.6,459.3H1190.6" stroke="#03564f" stroke-width="3.6" fill="none"/><path d="M1147.5,432.6H1170.7M1147.5,486H1170.7M1127.6,447.9V470.7M1190.6,447.9V470.7" stroke="#03564f" stroke-width="2.3" fill="none"/><path d="M1327.3,271.3V327.9M1293.8,299.6H1360.8" stroke="#e4312f" stroke-width="3.6" fill="none"/><path d="M1315.6,271.3H1339M1315.6,327.9H1339M1293.8,288.3V310.9M1360.8,288.3V310.9" stroke="#e4312f" stroke-width="2.3" fill="none"/><rect x="1392.7" y="233.7" width="19" height="19" fill="#01524d" stroke="#221818" stroke-width="1.9"/><rect x="1296.9" y="326.6" width="19" height="19" fill="#01524d" stroke="#221818" stroke-width="1.9"/><rect x="1222.7" y="386.8" width="19" height="19" fill="#01524d" stroke="#221818" stroke-width="1.9"/><rect x="1191.3" y="412.5" width="19" height="19" fill="#01524d" stroke="#221818" stroke-width="1.9"/><rect x="1149.6" y="449.8" width="19" height="19" fill="#01524d" stroke="#221818" stroke-width="1.9"/><circle cx="1327.3" cy="299.6" r="9.0" fill="#e4312f" stroke="#221818" stroke-width="2.1"/><path d="M1421.9,226.9L1429.9,240.9L1421.9,254.9L1413.9,240.9Z" fill="#6b89a2" stroke="#221818" stroke-width="2.25" stroke-linejoin="miter"/><path d="M1413.6,256.5L1421.6,270.5L1413.6,284.5L1405.6,270.5Z" fill="#6b89a2" stroke="#221818" stroke-width="2.25" stroke-linejoin="miter"/><path d="M1396,253.2L1404,267.2L1396,281.2L1388,267.2Z" fill="#6b89a2" stroke="#221818" stroke-width="2.25" stroke-linejoin="miter"/><path d="M1405.4,244L1413.4,258L1405.4,272L1397.4,258Z" fill="#6b89a2" stroke="#221818" stroke-width="2.25" stroke-linejoin="miter"/><path d="M1413.5,264.7L1421.5,278.7L1413.5,292.7L1405.5,278.7Z" fill="#6b89a2" stroke="#221818" stroke-width="2.25" stroke-linejoin="miter"/><path d="M1432.6,263.9L1440.6,277.9L1432.6,291.9L1424.6,277.9Z" fill="#6b89a2" stroke="#221818" stroke-width="2.25" stroke-linejoin="miter"/></g>
<g clip-path="url(#cb2)"><path d="M1654.3,214.7V271.7M1638.8,243.2H1669.8" stroke="#03564f" stroke-width="3.6" fill="none"/><path d="M1642.7,214.7H1665.9M1642.7,271.7H1665.9M1638.8,231.8V254.6M1669.8,231.8V254.6" stroke="#03564f" stroke-width="2.3" fill="none"/><path d="M1615.4,308.2V364.2M1600.6,336.2H1630.2" stroke="#03564f" stroke-width="3.6" fill="none"/><path d="M1603.8,308.2H1627M1603.8,364.2H1627M1600.6,324.8V347.6M1630.2,324.8V347.6" stroke="#03564f" stroke-width="2.3" fill="none"/><path d="M1538.9,369V423.4M1525.9,396.2H1551.9" stroke="#03564f" stroke-width="3.6" fill="none"/><path d="M1527.3,369H1550.5M1527.3,423.4H1550.5M1525.9,384.8V407.6M1551.9,384.8V407.6" stroke="#03564f" stroke-width="2.3" fill="none"/><path d="M1509.4,395.3V449.3M1496.9,422.3H1521.9" stroke="#03564f" stroke-width="3.6" fill="none"/><path d="M1497.8,395.3H1521M1497.8,449.3H1521M1496.9,410.9V433.7M1521.9,410.9V433.7" stroke="#03564f" stroke-width="2.3" fill="none"/><path d="M1472.5,433.1V486.1M1461,459.6H1484" stroke="#03564f" stroke-width="3.6" fill="none"/><path d="M1460.9,433.1H1484.1M1460.9,486.1H1484.1M1461,448.2V471M1484,448.2V471" stroke="#03564f" stroke-width="2.3" fill="none"/><path d="M1647.4,270.9V327.9M1631.9,299.4H1662.9" stroke="#e4312f" stroke-width="3.6" fill="none"/><path d="M1635.7,270.9H1659.1M1635.7,327.9H1659.1M1631.9,288.1V310.7M1662.9,288.1V310.7" stroke="#e4312f" stroke-width="2.3" fill="none"/><rect x="1644.8" y="233.7" width="19" height="19" fill="#01524d" stroke="#221818" stroke-width="1.9"/><rect x="1605.9" y="326.7" width="19" height="19" fill="#01524d" stroke="#221818" stroke-width="1.9"/><rect x="1529.4" y="386.7" width="19" height="19" fill="#01524d" stroke="#221818" stroke-width="1.9"/><rect x="1499.9" y="412.8" width="19" height="19" fill="#01524d" stroke="#221818" stroke-width="1.9"/><rect x="1463" y="450.1" width="19" height="19" fill="#01524d" stroke="#221818" stroke-width="1.9"/><circle cx="1647.4" cy="299.4" r="9.0" fill="#e4312f" stroke="#221818" stroke-width="2.1"/><path d="M1661,226.8L1669,240.8L1661,254.8L1653,240.8Z" fill="#6b89a2" stroke="#221818" stroke-width="2.25" stroke-linejoin="miter"/><path d="M1622.8,256L1630.8,270L1622.8,284L1614.8,270Z" fill="#6b89a2" stroke="#221818" stroke-width="2.25" stroke-linejoin="miter"/><path d="M1619.2,243.9L1627.2,257.9L1619.2,271.9L1611.2,257.9Z" fill="#6b89a2" stroke="#221818" stroke-width="2.25" stroke-linejoin="miter"/><path d="M1631.1,263.6L1639.1,277.6L1631.1,291.6L1623.1,277.6Z" fill="#6b89a2" stroke="#221818" stroke-width="2.25" stroke-linejoin="miter"/><path d="M1681.6,253.6L1689.6,267.6L1681.6,281.6L1673.6,267.6Z" fill="#6b89a2" stroke="#221818" stroke-width="2.25" stroke-linejoin="miter"/><path d="M1547.9,264.7L1555.9,278.7L1547.9,292.7L1539.9,278.7Z" fill="#6b89a2" stroke="#221818" stroke-width="2.25" stroke-linejoin="miter"/></g>
<text x="765" y="474.8" style="font-family:'Liberation Sans',Arial,sans-serif;font-size:17.4px" text-anchor="end" fill="#231f20" stroke="#231f20" stroke-width="0.3">3.2</text><text x="765" y="391.7" style="font-family:'Liberation Sans',Arial,sans-serif;font-size:17.4px" text-anchor="end" fill="#231f20" stroke="#231f20" stroke-width="0.3">3.3</text><text x="765" y="308.6" style="font-family:'Liberation Sans',Arial,sans-serif;font-size:17.4px" text-anchor="end" fill="#231f20" stroke="#231f20" stroke-width="0.3">3.4</text><text x="765" y="225.5" style="font-family:'Liberation Sans',Arial,sans-serif;font-size:17.4px" text-anchor="end" fill="#231f20" stroke="#231f20" stroke-width="0.3">3.5</text><text x="874.2" y="533.7" style="font-family:'Liberation Sans',Arial,sans-serif;font-size:17.4px" text-anchor="middle" fill="#231f20" stroke="#231f20" stroke-width="0.3">0.15</text><text x="974.3" y="533.7" style="font-family:'Liberation Sans',Arial,sans-serif;font-size:17.4px" text-anchor="middle" fill="#231f20" stroke="#231f20" stroke-width="0.3">0.18</text><text x="1073.5" y="533.7" style="font-family:'Liberation Sans',Arial,sans-serif;font-size:17.4px" text-anchor="middle" fill="#231f20" stroke="#231f20" stroke-width="0.3">0.21</text><text x="1201.5" y="533.7" style="font-family:'Liberation Sans',Arial,sans-serif;font-size:17.4px" text-anchor="middle" fill="#231f20" stroke="#231f20" stroke-width="0.3">3.4</text><text x="1296.6" y="533.7" style="font-family:'Liberation Sans',Arial,sans-serif;font-size:17.4px" text-anchor="middle" fill="#231f20" stroke="#231f20" stroke-width="0.3">3.5</text><text x="1391.6" y="533.7" style="font-family:'Liberation Sans',Arial,sans-serif;font-size:17.4px" text-anchor="middle" fill="#231f20" stroke="#231f20" stroke-width="0.3">3.6</text><text x="1501.8" y="533.7" style="font-family:'Liberation Sans',Arial,sans-serif;font-size:17.4px" text-anchor="middle" fill="#231f20" stroke="#231f20" stroke-width="0.3">2.0</text><text x="1626.2" y="533.7" style="font-family:'Liberation Sans',Arial,sans-serif;font-size:17.4px" text-anchor="middle" fill="#231f20" stroke="#231f20" stroke-width="0.3">2.4</text><text x="1751.4" y="533.7" style="font-family:'Liberation Sans',Arial,sans-serif;font-size:17.4px" text-anchor="middle" fill="#231f20" stroke="#231f20" stroke-width="0.3">2.8</text><text x="773.4" y="156.8" style="font-family:'Liberation Sans',Arial,sans-serif;font-size:20.5px" text-anchor="start" fill="#231f20" stroke="#231f20" stroke-width="0.3">a</text><text x="1112.2" y="156.8" style="font-family:'Liberation Sans',Arial,sans-serif;font-size:20.5px" text-anchor="start" fill="#231f20" stroke="#231f20" stroke-width="0.3">b</text><text x="1443.4" y="156.8" style="font-family:'Liberation Sans',Arial,sans-serif;font-size:20.5px" text-anchor="start" fill="#231f20" stroke="#231f20" stroke-width="0.3">c</text><text x="904.4" y="564.6" textLength="67.2" lengthAdjust="spacingAndGlyphs" style="font-family:'Liberation Sans',Arial,sans-serif;font-size:17.4px" fill="#231f20" stroke="#231f20" stroke-width="0.3">R<tspan dy="4.6" style="font-size:13.6px">skin</tspan><tspan dy="-4.6"> (fm)</tspan></text><text x="1244.6" y="565.6" textLength="52" lengthAdjust="spacingAndGlyphs" style="font-family:'Liberation Sans',Arial,sans-serif;font-size:17.4px" fill="#231f20" stroke="#231f20" stroke-width="0.3">R<tspan dy="4.6" style="font-size:13.6px">n</tspan><tspan dy="-4.6"> (fm)</tspan></text><text y="564.4" style="font-family:'Liberation Sans',Arial,sans-serif;font-size:17.4px" fill="#231f20" stroke="#231f20" stroke-width="0.3"><tspan x="1571.6" style="font-style:italic;font-size:18.6px">α</tspan><tspan x="1583.4" y="569.7" style="font-size:13.3px">D</tspan><tspan x="1597.6" y="564.4">(fm</tspan><tspan x="1626.4" y="558.6" style="font-size:11.8px">3</tspan><tspan x="1632.8" y="564.4">)</tspan></text><text transform="translate(720.9,372.4) rotate(-90)" x="0" y="0" textLength="52" lengthAdjust="spacingAndGlyphs" style="font-family:'Liberation Sans',Arial,sans-serif;font-size:17.4px" fill="#231f20" stroke="#231f20" stroke-width="0.3">R<tspan dy="4.6" style="font-size:13.6px">p</tspan><tspan dy="-4.6"> (fm)</tspan></text><text x="1242.5" y="99.9" style="font-family:'Liberation Serif',serif;font-size:37.5px" fill="#000">(B)</text>
</svg>
</body></html>
